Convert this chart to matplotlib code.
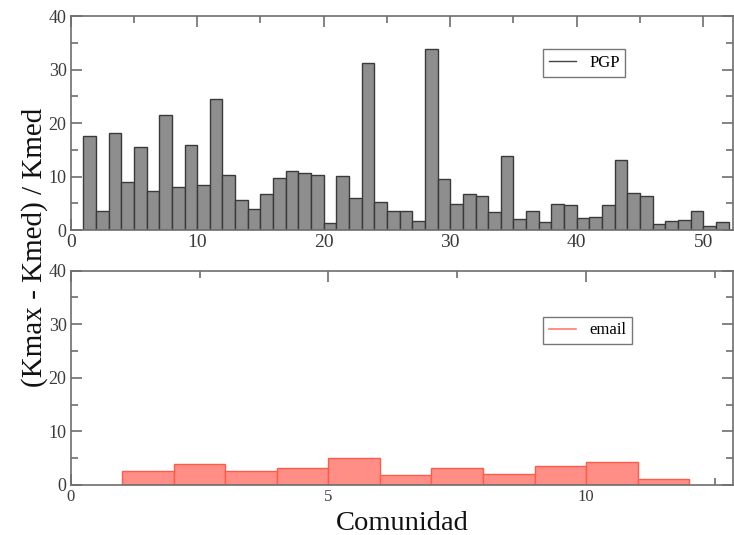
import matplotlib
matplotlib.use("Agg")
import matplotlib.pyplot as plt
from matplotlib.ticker import MultipleLocator
from matplotlib.lines import Line2D

plt.rcParams["font.family"] = ["Liberation Serif", "DejaVu Serif"]

# PGP communities 1..51
pgp_comunidad = list(range(1, 52))
pgp_valores = [17.6, 3.5, 18.2, 9.0, 15.6, 7.3, 21.5, 8.0, 15.9, 8.5,
               24.5, 10.2, 5.7, 3.9, 6.7, 9.8, 11.0, 10.6, 10.3, 1.4,
               10.1, 5.9, 31.3, 5.2, 3.6, 3.6, 1.7, 33.9, 9.5, 4.8,
               6.7, 6.4, 3.4, 13.8, 2.1, 3.5, 1.5, 4.8, 4.7, 2.2,
               2.4, 4.7, 13.1, 7.0, 6.4, 1.1, 1.7, 1.9, 3.6, 0.8, 1.5]

# email communities 1..11
email_comunidad = list(range(1, 12))
email_valores = [2.6, 3.9, 2.6, 3.1, 5.0, 1.9, 3.1, 2.1, 3.5, 4.2, 1.2]

ylabel = "(Kmax - Kmed) / Kmed"
xlabel = "Comunidad"

spine_col = "#6e6e6e"
text_col = "#3a3a3a"

fig = plt.figure(figsize=(7.34, 5.35), dpi=100)
ax1 = fig.add_axes([0.0963, 0.570, 0.9023, 0.400])
ax2 = fig.add_axes([0.0963, 0.0935, 0.9023, 0.4005])


def style(ax, xmaj, xmin, xlabsize):
    for s in ax.spines.values():
        s.set_color(spine_col)
        s.set_linewidth(1.2)
    ax.set_ylim(0, 40)
    ax.yaxis.set_major_locator(MultipleLocator(10))
    ax.yaxis.set_minor_locator(MultipleLocator(5))
    ax.xaxis.set_major_locator(MultipleLocator(xmaj))
    ax.xaxis.set_minor_locator(MultipleLocator(xmin))
    ax.tick_params(which="both", direction="in", top=True, right=True,
                   color=spine_col, width=1.2)
    ax.tick_params(which="major", length=8)
    ax.tick_params(which="minor", length=5)
    ax.tick_params(axis="y", labelsize=13, labelcolor=text_col, pad=3)
    ax.tick_params(axis="x", labelsize=xlabsize, labelcolor=text_col, pad=3)


legend_kw = dict(loc="upper left", fontsize=12, frameon=True, fancybox=False,
                 edgecolor="#555555", handlelength=1.6, borderpad=0.35,
                 handletextpad=0.8)

# top panel: PGP
ax1.bar(pgp_comunidad, pgp_valores, width=1.0, align="edge",
        color="#8e8e8e", edgecolor="#3a3a3a", linewidth=1.0, zorder=2)
ax1.set_xlim(0, 52.35)
style(ax1, 10, 5, 14)
ax1.legend(handles=[Line2D([], [], color="#444444", lw=1.0)], labels=["PGP"],
           bbox_to_anchor=(0.701, 0.885), **legend_kw)

# bottom panel: email
ax2.bar(email_comunidad, email_valores, width=1.0, align="edge",
        color="#ff8f86", edgecolor="#ff5a4a", linewidth=1.0, zorder=2)
ax2.set_xlim(0, 12.85)
style(ax2, 5, 2.5, 12)
ax2.legend(handles=[Line2D([], [], color="#ff7b70", lw=1.2)], labels=["email"],
           bbox_to_anchor=(0.701, 0.825), **legend_kw)
ax2.set_xlabel(xlabel, fontsize=20.5, color="#111111", labelpad=4)

fig.text(0.047, 0.538, ylabel, rotation=90, ha="center", va="center",
         fontsize=21, color="#111111")

fig.savefig("out.png", dpi=100)
